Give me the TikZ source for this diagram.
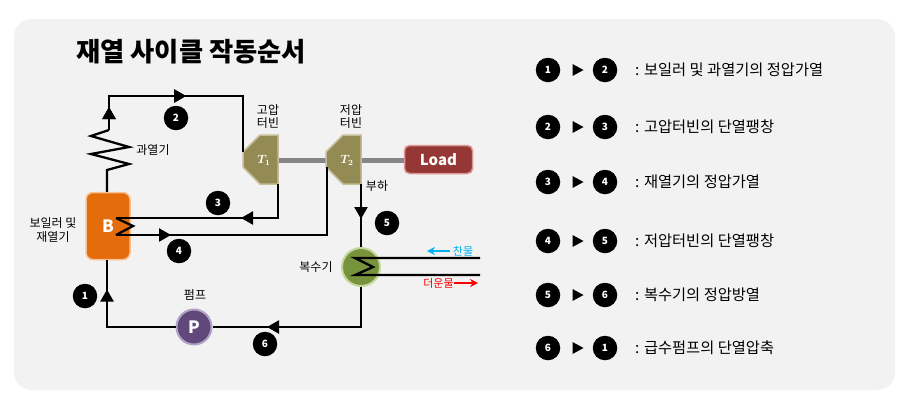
\documentclass[tikz,border=0pt]{standalone}
\usepackage{fontspec}
\setmainfont{Noto Sans CJK KR}
\usetikzlibrary{arrows.meta,decorations.markings}
\definecolor{panel}{HTML}{F2F2F2}
\tikzset{
  x=1pt,y=-1pt,
  wire/.style={draw=black,line width=2.3pt,line join=miter},
  tipat/.style={postaction={decorate},decoration={markings,mark=at position #1 with {\arrow{Triangle[length=12pt,width=13pt]}}}},
  badge/.style={circle,fill=black,text=white,minimum size=24.5pt,inner sep=0pt,font=\fontsize{10}{10}\selectfont\bfseries},
  lbl/.style={inner sep=0pt,font=\fontsize{12}{13.5}\selectfont,align=center},
  item/.style={inner sep=0pt,anchor=west,font=\fontsize{15.3}{15.3}\selectfont},
  mini/.style={fill=black,draw=none},
  turb/.style={fill=olive2,draw=olive3,line width=1.5pt,line join=miter},
  shaft/.style={draw=gray!95,line width=5pt},
  tlbl/.style={text=white,inner sep=0pt,font=\fontsize{12}{12}\selectfont\boldmath},
}
\definecolor{olive2}{HTML}{948A54}
\definecolor{olive3}{HTML}{C4BD97}
\begin{document}
\begin{tikzpicture}
\useasboundingbox (0,0) rectangle (916,408);
\fill[white] (0,0) rectangle (916,408);
\fill[panel,rounded corners=18pt] (14,19) rectangle (895,390);
\node[inner sep=0pt,anchor=west,font=\fontsize{26.3}{26.3}\selectfont\bfseries] (title) at (76,52) {재열 사이클 작동순서};

% coordinates
\coordinate (bt) at (107,192);
\coordinate (sh1) at (107,170);
\coordinate (sh2) at (109,130);
\coordinate (c1) at (109,96);
\coordinate (c2) at (243,96);
\coordinate (t1in) at (243,152);
\coordinate (t1out) at (278,184);
\coordinate (c3) at (278,218);
\coordinate (rh1) at (116,218);
\coordinate (rh2) at (133,226);
\coordinate (rh3) at (116,235);
\coordinate (c4) at (327,235);
\coordinate (t2in) at (327,167);
\coordinate (t2out) at (361,184);

% shaft
\draw[shaft] (278,160.5) -- (326,160.5);
\draw[shaft] (361,160.5) -- (404,160.5);

% equipment
\node[draw={rgb,255:red,250;green,192;blue,144},fill={rgb,255:red,228;green,108;blue,10},line width=1.5pt,rounded corners=7pt,minimum width=44pt,minimum height=67pt,inner sep=0pt,text=white,font=\fontsize{17}{17}\selectfont\bfseries] (boiler) at (108,226) {B};
\draw[turb] (278,135) -- (260,135) -- (243,152) -- (243,167) -- (260,184) -- (278,184) -- cycle;
\draw[turb] (361,135) -- (343,135) -- (326,152) -- (326,167) -- (343,184) -- (361,184) -- cycle;
\node[tlbl] (t1) at (264,160.5) {$T_1$};
\node[tlbl] (t2) at (347,160.5) {$T_2$};
\node[draw={rgb,255:red,217;green,150;blue,148},fill={rgb,255:red,149;green,55;blue,53},line width=1.5pt,rounded corners=5pt,minimum width=68pt,minimum height=28pt,inner sep=0pt,text=white,font=\fontsize{15}{15}\selectfont\bfseries] (load) at (438.5,159.5) {Load};
\node[circle,draw={rgb,255:red,195;green,214;blue,155},fill={rgb,255:red,119;green,147;blue,60},line width=2pt,minimum size=38pt,inner sep=0pt] (cond) at (361,267) {};
\node[circle,draw={rgb,255:red,179;green,162;blue,199},fill={rgb,255:red,96;green,73;blue,122},line width=2pt,minimum size=35pt,inner sep=0pt,text=white,font=\fontsize{17}{17}\selectfont\bfseries] (pump) at (194,327) {P};

% connectors
\draw[wire] (boiler.north -| bt) -- (sh1) -- (129,164) -- (91,154) -- (129,147) -- (91,136) -- (sh2);
\draw[wire,tipat=23pt,tipat=111pt] (sh2) -- (c1) -- (c2) -- (t1in);
\draw[wire,tipat=71pt] (t1out) -- (c3) -- (rh1);
\draw[wire] (rh1) -- (rh2) -- (rh3);
\draw[wire,tipat=55pt] (rh3) -- (c4) -- (t2in);
\draw[wire,tipat=35pt] (t2out) -- (cond.north);
\coordinate (cw1) at (480,258);
\coordinate (cw2) at (480,275);
\draw[wire] (cw1) -- (355,258) -- (373,267) -- (355,275) -- (cw2);
\draw[wire,tipat=134pt] (cond.south) |- (pump.east);
\draw[wire,tipat=106pt] (pump.west) -| (boiler.south -| 107,260);

% labels
\node[lbl] (lsh) at (153,150) {과열기};
\node[lbl] (lbo) at (53,230) {보일러 및\\재열기};
\node[lbl] (lhp) at (268,116.5) {고압\\터빈};
\node[lbl] (llp) at (351,116.5) {저압\\터빈};
\node[lbl] (lld) at (377,186) {부하};
\node[lbl] (lco) at (316,267) {복수기};
\node[lbl] (lpu) at (195,295) {펌프};
\node[lbl,font=\fontsize{11}{11}\selectfont,text={rgb,255:red,0;green,176;blue,240}] (lcold) at (463,251) {찬물};
\node[lbl,font=\fontsize{11}{11}\selectfont,text=red] (lhot) at (438.5,283) {더운물};
\draw[{Stealth[length=8pt,width=8pt]}-,draw={rgb,255:red,0;green,176;blue,240},line width=1.8pt,shorten >=3pt] (427,251) -- (lcold.west);
\draw[-{Stealth[length=8pt,width=8pt]},draw=red,line width=1.8pt] (lhot.east) -- (478,283);

% badges in diagram
\node[badge] (n1) at (85,296) {1};
\node[badge] (n2) at (176,118) {2};
\node[badge] (n3) at (218,203) {3};
\node[badge] (n4) at (179,251) {4};
\node[badge] (n5) at (387,223) {5};
\node[badge] (n6) at (265,344) {6};

% legend
\foreach \yy/\a/\b/\txt in {70/1/2/{: 보일러 및 과열기의 정압가열},127/2/3/{: 고압터빈의 단열팽창},182/3/4/{: 재열기의 정압가열},241/4/5/{: 저압터빈의 단열팽창},295/5/6/{: 복수기의 정압방열},348/6/1/{: 급수펌프의 단열압축}}{
  \node[badge] (la\a) at (548,\yy) {\a};
  \node[badge] (lb\a) at (605,\yy) {\b};
  \fill[mini] (572.5,\yy-6) -- (583.5,\yy) -- (572.5,\yy+6) -- cycle;
  \node[item] (lt\a) at (635,\yy) {\txt};
}
\end{tikzpicture}
\end{document}
